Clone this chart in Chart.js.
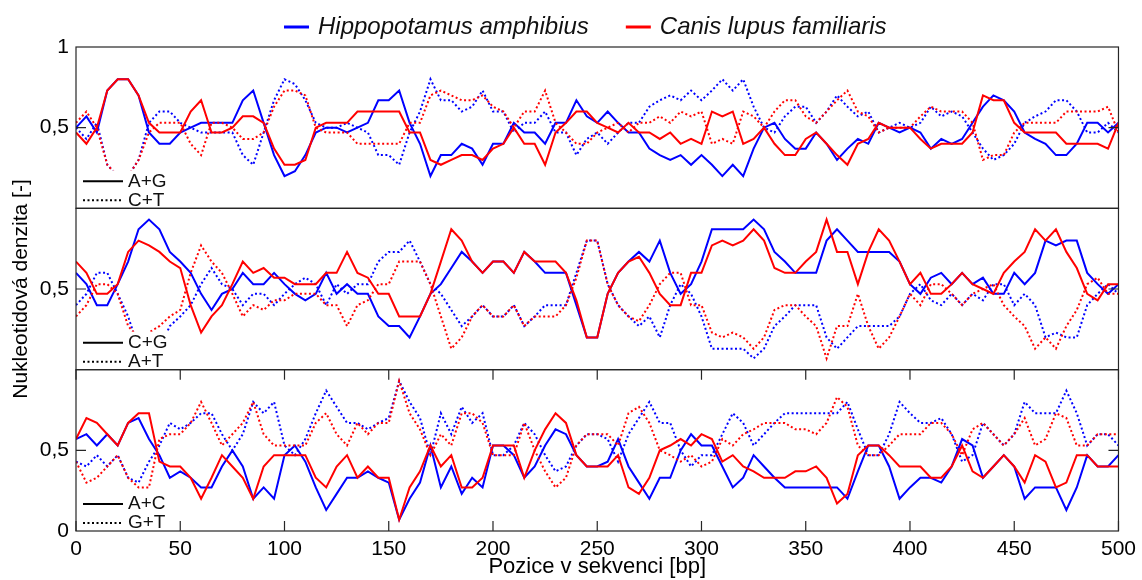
<!DOCTYPE html>
<html>
<head>
<meta charset="utf-8">
<script src="https://cdn.jsdelivr.net/npm/chart.js@4.4.1/dist/chart.umd.min.js"></script>
<style>
  html, body { margin: 0; padding: 0; background: #fff; }
  #wrap { width: 1142px; height: 580px; }
</style>
</head>
<body>
<div id="wrap"><canvas id="chart" width="1142" height="580"></canvas></div>
<script>
// position in sequence [bp], one value every 5 bp
const positions = [
  0, 5, 10, 15, 20, 25, 30, 35, 40, 45,
  50, 55, 60, 65, 70, 75, 80, 85, 90, 95,
  100, 105, 110, 115, 120, 125, 130, 135, 140, 145,
  150, 155, 160, 165, 170, 175, 180, 185, 190, 195,
  200, 205, 210, 215, 220, 225, 230, 235, 240, 245,
  250, 255, 260, 265, 270, 275, 280, 285, 290, 295,
  300, 305, 310, 315, 320, 325, 330, 335, 340, 345,
  350, 355, 360, 365, 370, 375, 380, 385, 390, 395,
  400, 405, 410, 415, 420, 425, 430, 435, 440, 445,
  450, 455, 460, 465, 470, 475, 480, 485, 490, 495,
  500
];

// panel 1: A+G (solid) / C+T (dotted)
const hippoAG = [
  0.5, 0.57, 0.47, 0.73, 0.8, 0.8, 0.7, 0.47, 0.4, 0.4,
  0.47, 0.5, 0.53, 0.53, 0.53, 0.53, 0.67, 0.73, 0.53, 0.33,
  0.2, 0.23, 0.33, 0.47, 0.5, 0.5, 0.47, 0.5, 0.53, 0.67,
  0.67, 0.73, 0.53, 0.4, 0.2, 0.33, 0.33, 0.4, 0.37, 0.27,
  0.4, 0.4, 0.53, 0.47, 0.47, 0.4, 0.53, 0.53, 0.67, 0.57,
  0.53, 0.6, 0.53, 0.47, 0.47, 0.37, 0.33, 0.3, 0.33, 0.27,
  0.33, 0.27, 0.2, 0.27, 0.2, 0.37, 0.5, 0.53, 0.43, 0.37,
  0.37, 0.47, 0.4, 0.3, 0.37, 0.43, 0.4, 0.53, 0.5, 0.47,
  0.5, 0.47, 0.37, 0.43, 0.4, 0.43, 0.53, 0.63, 0.7, 0.67,
  0.6, 0.47, 0.43, 0.4, 0.33, 0.33, 0.4, 0.53, 0.53, 0.47,
  0.53
];
const hippoCT = [
  0.5, 0.43, 0.53, 0.27, 0.2, 0.2, 0.3, 0.53, 0.6, 0.6,
  0.53, 0.5, 0.47, 0.47, 0.47, 0.47, 0.33, 0.27, 0.47, 0.67,
  0.8, 0.77, 0.67, 0.53, 0.5, 0.5, 0.53, 0.5, 0.47, 0.33,
  0.33, 0.27, 0.47, 0.6, 0.8, 0.67, 0.67, 0.6, 0.63, 0.73,
  0.6, 0.6, 0.47, 0.53, 0.53, 0.6, 0.47, 0.47, 0.33, 0.43,
  0.47, 0.4, 0.47, 0.53, 0.53, 0.63, 0.67, 0.7, 0.67, 0.73,
  0.67, 0.73, 0.8, 0.73, 0.8, 0.63, 0.5, 0.47, 0.57, 0.63,
  0.63, 0.53, 0.6, 0.7, 0.63, 0.57, 0.6, 0.47, 0.5, 0.53,
  0.5, 0.53, 0.63, 0.57, 0.6, 0.57, 0.47, 0.37, 0.3, 0.33,
  0.4, 0.53, 0.57, 0.6, 0.67, 0.67, 0.6, 0.47, 0.47, 0.53,
  0.47
];
const canisAG = [
  0.47, 0.4, 0.5, 0.73, 0.8, 0.8, 0.7, 0.53, 0.47, 0.47,
  0.47, 0.6, 0.67, 0.47, 0.47, 0.5, 0.57, 0.57, 0.53, 0.37,
  0.27, 0.27, 0.3, 0.5, 0.53, 0.53, 0.53, 0.6, 0.6, 0.6,
  0.6, 0.6, 0.47, 0.47, 0.3, 0.27, 0.3, 0.33, 0.33, 0.3,
  0.37, 0.4, 0.5, 0.4, 0.4, 0.27, 0.47, 0.53, 0.6, 0.6,
  0.53, 0.5, 0.47, 0.53, 0.47, 0.47, 0.43, 0.47, 0.4, 0.43,
  0.4, 0.6, 0.57, 0.6, 0.4, 0.43, 0.5, 0.4, 0.33, 0.33,
  0.43, 0.47, 0.4, 0.33, 0.27, 0.4, 0.43, 0.53, 0.5, 0.5,
  0.5, 0.43, 0.37, 0.4, 0.4, 0.4, 0.47, 0.7, 0.67, 0.67,
  0.53, 0.47, 0.47, 0.47, 0.47, 0.4, 0.4, 0.4, 0.4, 0.37,
  0.53
];
const canisCT = [
  0.53, 0.6, 0.5, 0.27, 0.2, 0.2, 0.3, 0.47, 0.53, 0.53,
  0.53, 0.4, 0.33, 0.53, 0.53, 0.5, 0.43, 0.43, 0.47, 0.63,
  0.73, 0.73, 0.7, 0.5, 0.47, 0.47, 0.47, 0.4, 0.4, 0.4,
  0.4, 0.4, 0.53, 0.53, 0.7, 0.73, 0.7, 0.67, 0.67, 0.7,
  0.63, 0.6, 0.5, 0.6, 0.6, 0.73, 0.53, 0.47, 0.4, 0.4,
  0.47, 0.5, 0.53, 0.47, 0.53, 0.53, 0.57, 0.53, 0.6, 0.57,
  0.6, 0.4, 0.43, 0.4, 0.6, 0.57, 0.5, 0.6, 0.67, 0.67,
  0.57, 0.53, 0.6, 0.67, 0.73, 0.6, 0.57, 0.47, 0.5, 0.5,
  0.5, 0.57, 0.63, 0.6, 0.6, 0.6, 0.53, 0.3, 0.33, 0.33,
  0.47, 0.53, 0.53, 0.53, 0.53, 0.6, 0.6, 0.6, 0.6, 0.63,
  0.47
];

// panel 2: C+G (solid) / A+T (dotted)
const hippoCG = [
  0.6, 0.53, 0.4, 0.4, 0.53, 0.67, 0.87, 0.93, 0.87, 0.73,
  0.67, 0.6, 0.47, 0.37, 0.47, 0.5, 0.6, 0.53, 0.53, 0.6,
  0.53, 0.47, 0.43, 0.47, 0.6, 0.47, 0.53, 0.47, 0.47, 0.33,
  0.27, 0.27, 0.2, 0.33, 0.47, 0.53, 0.63, 0.73, 0.67, 0.6,
  0.67, 0.67, 0.6, 0.73, 0.67, 0.6, 0.6, 0.6, 0.4, 0.2,
  0.2, 0.47, 0.6, 0.67, 0.73, 0.67, 0.8, 0.6, 0.47, 0.53,
  0.67, 0.87, 0.87, 0.87, 0.87, 0.93, 0.87, 0.73, 0.67, 0.6,
  0.6, 0.6, 0.8, 0.87, 0.8, 0.73, 0.73, 0.73, 0.73, 0.67,
  0.53, 0.47, 0.57, 0.6, 0.53, 0.6, 0.53, 0.57, 0.47, 0.47,
  0.6, 0.53, 0.6, 0.8, 0.77, 0.8, 0.8, 0.6, 0.53, 0.47,
  0.53
];
const hippoAT = [
  0.4, 0.47, 0.6, 0.6, 0.47, 0.33, 0.13, 0.07, 0.13, 0.27,
  0.33, 0.4, 0.53, 0.63, 0.53, 0.5, 0.4, 0.47, 0.47, 0.4,
  0.47, 0.53, 0.57, 0.53, 0.4, 0.53, 0.47, 0.53, 0.53, 0.67,
  0.73, 0.73, 0.8, 0.67, 0.53, 0.47, 0.37, 0.27, 0.33, 0.4,
  0.33, 0.33, 0.4, 0.27, 0.33, 0.4, 0.4, 0.4, 0.6, 0.8,
  0.8, 0.53, 0.4, 0.33, 0.27, 0.33, 0.2, 0.4, 0.53, 0.47,
  0.33, 0.13, 0.13, 0.13, 0.13, 0.07, 0.13, 0.27, 0.33, 0.4,
  0.4, 0.4, 0.2, 0.13, 0.2, 0.27, 0.27, 0.27, 0.27, 0.33,
  0.47, 0.53, 0.43, 0.4, 0.47, 0.4, 0.47, 0.43, 0.53, 0.53,
  0.4, 0.47, 0.4, 0.2, 0.23, 0.2, 0.2, 0.4, 0.47, 0.53,
  0.47
];
const canisCG = [
  0.67, 0.6, 0.47, 0.47, 0.53, 0.73, 0.8, 0.77, 0.73, 0.67,
  0.63, 0.4, 0.23, 0.33, 0.4, 0.53, 0.67, 0.6, 0.63, 0.57,
  0.57, 0.53, 0.53, 0.53, 0.6, 0.6, 0.73, 0.6, 0.57, 0.47,
  0.47, 0.33, 0.33, 0.33, 0.47, 0.67, 0.87, 0.8, 0.67, 0.6,
  0.67, 0.67, 0.6, 0.73, 0.67, 0.67, 0.67, 0.6, 0.43, 0.2,
  0.2, 0.47, 0.6, 0.67, 0.7, 0.6, 0.47, 0.4, 0.4, 0.6,
  0.6, 0.77, 0.8, 0.77, 0.8, 0.87, 0.8, 0.63, 0.6, 0.6,
  0.67, 0.73, 0.93, 0.73, 0.73, 0.53, 0.73, 0.87, 0.8, 0.67,
  0.53, 0.6, 0.47, 0.47, 0.53, 0.6, 0.53, 0.5, 0.47, 0.6,
  0.67, 0.73, 0.87, 0.8, 0.87, 0.73, 0.63, 0.47, 0.43, 0.53,
  0.53
];
const canisAT = [
  0.33, 0.4, 0.53, 0.53, 0.47, 0.27, 0.2, 0.23, 0.27, 0.33,
  0.37, 0.6, 0.77, 0.67, 0.6, 0.47, 0.33, 0.4, 0.37, 0.43,
  0.43, 0.47, 0.47, 0.47, 0.4, 0.4, 0.27, 0.4, 0.43, 0.53,
  0.53, 0.67, 0.67, 0.67, 0.53, 0.33, 0.13, 0.2, 0.33, 0.4,
  0.33, 0.33, 0.4, 0.27, 0.33, 0.33, 0.33, 0.4, 0.57, 0.8,
  0.8, 0.53, 0.4, 0.33, 0.3, 0.4, 0.53, 0.6, 0.6, 0.4,
  0.4, 0.23, 0.2, 0.23, 0.2, 0.13, 0.2, 0.37, 0.4, 0.4,
  0.33, 0.27, 0.07, 0.27, 0.27, 0.47, 0.27, 0.13, 0.2, 0.33,
  0.47, 0.4, 0.53, 0.53, 0.47, 0.4, 0.47, 0.5, 0.53, 0.4,
  0.33, 0.27, 0.13, 0.2, 0.13, 0.27, 0.37, 0.53, 0.57, 0.47,
  0.47
];

// panel 3: A+C (solid) / G+T (dotted)
const hippoAC = [
  0.57, 0.6, 0.53, 0.6, 0.53, 0.67, 0.7, 0.57, 0.47, 0.33,
  0.37, 0.33, 0.27, 0.27, 0.4, 0.5, 0.4, 0.2, 0.27, 0.2,
  0.47, 0.53, 0.43, 0.27, 0.13, 0.23, 0.33, 0.33, 0.37, 0.33,
  0.3, 0.07, 0.2, 0.3, 0.53, 0.27, 0.4, 0.23, 0.33, 0.27,
  0.53, 0.53, 0.47, 0.33, 0.4, 0.53, 0.63, 0.6, 0.47, 0.4,
  0.4, 0.43, 0.57, 0.4, 0.3, 0.2, 0.33, 0.33, 0.5, 0.6,
  0.53, 0.53, 0.4, 0.27, 0.33, 0.47, 0.4, 0.33, 0.27, 0.27,
  0.27, 0.27, 0.27, 0.27, 0.2, 0.37, 0.53, 0.53, 0.4, 0.2,
  0.27, 0.33, 0.33, 0.3, 0.4, 0.57, 0.53, 0.33, 0.4, 0.47,
  0.4, 0.2, 0.27, 0.27, 0.27, 0.13, 0.27, 0.47, 0.4, 0.4,
  0.47
];
const hippoGT = [
  0.43, 0.4, 0.47, 0.4, 0.47, 0.33, 0.3, 0.43, 0.53, 0.67,
  0.63, 0.67, 0.73, 0.73, 0.6, 0.5, 0.6, 0.8, 0.73, 0.8,
  0.53, 0.47, 0.57, 0.73, 0.87, 0.77, 0.67, 0.67, 0.63, 0.67,
  0.7, 0.93, 0.8, 0.7, 0.47, 0.73, 0.6, 0.77, 0.67, 0.73,
  0.47, 0.47, 0.53, 0.67, 0.6, 0.47, 0.37, 0.4, 0.53, 0.6,
  0.6, 0.57, 0.43, 0.6, 0.7, 0.8, 0.67, 0.67, 0.5, 0.4,
  0.47, 0.47, 0.6, 0.73, 0.67, 0.53, 0.6, 0.67, 0.73, 0.73,
  0.73, 0.73, 0.73, 0.73, 0.8, 0.63, 0.47, 0.47, 0.6, 0.8,
  0.73, 0.67, 0.67, 0.7, 0.6, 0.43, 0.47, 0.67, 0.6, 0.53,
  0.6, 0.8, 0.73, 0.73, 0.73, 0.87, 0.73, 0.53, 0.6, 0.6,
  0.53
];
const canisAC = [
  0.57, 0.7, 0.67, 0.6, 0.53, 0.67, 0.73, 0.73, 0.43, 0.4,
  0.4, 0.33, 0.2, 0.33, 0.47, 0.4, 0.33, 0.2, 0.4, 0.47,
  0.47, 0.47, 0.47, 0.33, 0.27, 0.4, 0.47, 0.33, 0.4, 0.33,
  0.33, 0.07, 0.27, 0.37, 0.53, 0.4, 0.47, 0.27, 0.27, 0.33,
  0.53, 0.53, 0.53, 0.33, 0.5, 0.63, 0.73, 0.67, 0.47, 0.4,
  0.4, 0.4, 0.47, 0.27, 0.23, 0.33, 0.5, 0.53, 0.57, 0.53,
  0.6, 0.57, 0.43, 0.47, 0.4, 0.37, 0.33, 0.33, 0.33, 0.37,
  0.37, 0.4, 0.33, 0.17, 0.23, 0.47, 0.53, 0.53, 0.47, 0.4,
  0.4, 0.4, 0.33, 0.33, 0.4, 0.53, 0.37, 0.33, 0.4, 0.47,
  0.4, 0.3, 0.47, 0.43, 0.27, 0.3, 0.47, 0.47, 0.4, 0.4,
  0.4
];
const canisGT = [
  0.43, 0.3, 0.33, 0.4, 0.47, 0.33, 0.27, 0.27, 0.57, 0.6,
  0.6, 0.67, 0.8, 0.67, 0.53, 0.6, 0.67, 0.8, 0.6, 0.53,
  0.53, 0.53, 0.53, 0.67, 0.73, 0.6, 0.53, 0.67, 0.6, 0.67,
  0.67, 0.93, 0.73, 0.63, 0.47, 0.6, 0.53, 0.73, 0.73, 0.67,
  0.47, 0.47, 0.47, 0.67, 0.5, 0.37, 0.27, 0.33, 0.53, 0.6,
  0.6, 0.6, 0.53, 0.73, 0.77, 0.67, 0.5, 0.47, 0.43, 0.47,
  0.4, 0.43, 0.57, 0.53, 0.6, 0.63, 0.67, 0.67, 0.67, 0.63,
  0.63, 0.6, 0.67, 0.83, 0.77, 0.53, 0.47, 0.47, 0.53, 0.6,
  0.6, 0.6, 0.67, 0.67, 0.6, 0.47, 0.63, 0.67, 0.6, 0.53,
  0.6, 0.7, 0.53, 0.57, 0.73, 0.7, 0.53, 0.53, 0.6, 0.6,
  0.6
];

const species = ['Hippopotamus amphibius', 'Canis lupus familiaris'];
const speciesColors = ['#0000ff', '#ff0000'];
const panelPairs = [['A+G', 'C+T'], ['C+G', 'A+T'], ['A+C', 'G+T']];
const topTicks = [0.5, 1];
const midTicks = [0.5];
const bottomTicks = [0, 0.5];
const xTicks = [0, 50, 100, 150, 200, 250, 300, 350, 400, 450, 500];

const FONT = '"Liberation Sans", Arial, sans-serif';
const DOTS = [2, 2.5];

const toPoints = vals => vals.map((v, i) => ({ x: positions[i], y: v }));

const makeLine = (label, vals, color, dotted, axis, order) => ({
  label: label,
  data: toPoints(vals),
  yAxisID: axis,
  order: order,
  borderColor: color,
  borderWidth: 2,
  borderDash: dotted ? DOTS : [],
  pointRadius: 0,
  tension: 0,
  fill: false
});

const panels = [
  { axis: 'yA', hippo: [hippoAG, hippoCT], canis: [canisAG, canisCT] },
  { axis: 'yB', hippo: [hippoCG, hippoAT], canis: [canisCG, canisAT] },
  { axis: 'yC', hippo: [hippoAC, hippoGT], canis: [canisAC, canisGT] }
];

const datasets = [];
panels.forEach((p, i) => {
  datasets.push(makeLine(species[1] + ' ' + panelPairs[i][0], p.canis[0], speciesColors[1], false, p.axis, 0));
  datasets.push(makeLine(species[1] + ' ' + panelPairs[i][1], p.canis[1], speciesColors[1], true, p.axis, 1));
  datasets.push(makeLine(species[0] + ' ' + panelPairs[i][0], p.hippo[0], speciesColors[0], false, p.axis, 2));
  datasets.push(makeLine(species[0] + ' ' + panelPairs[i][1], p.hippo[1], speciesColors[0], true, p.axis, 3));
});

const panelAxis = (tickVals, title) => ({
  type: 'linear',
  position: 'left',
  stack: 'panels',
  stackWeight: 1,
  min: 0,
  max: 1,
  grid: { display: false, drawTicks: false },
  border: { display: false },
  afterBuildTicks: s => { s.ticks = tickVals.map(v => ({ value: v })); },
  ticks: {
    autoSkip: false,
    padding: 7,
    color: '#000',
    font: { family: FONT, size: 21 },
    callback: v => String(v).replace('.', ',')
  },
  title: {
    display: !!title,
    text: title || '',
    color: '#000',
    font: { family: FONT, size: 21 },
    padding: { top: 9, bottom: 0 }
  },
  afterFit: s => { s.width = 76; }
});

// box, inward ticks and the small line-style legend of each panel
const panelFrames = {
  id: 'panelFrames',
  afterDatasetsDraw(chart) {
    const { ctx, chartArea } = chart;
    const left = chartArea.left, right = chartArea.right;
    ['yA', 'yB', 'yC'].forEach((id, p) => {
      const s = chart.scales[id];
      const top = s.top, bottom = s.bottom;
      ctx.save();
      ctx.fillStyle = '#fff';
      ctx.fillRect(left + 1, bottom - 38, 94, 37);
      ctx.strokeStyle = '#000';
      ctx.lineWidth = 2;
      ctx.beginPath();
      ctx.moveTo(left + 7, bottom - 27);
      ctx.lineTo(left + 47, bottom - 27);
      ctx.stroke();
      ctx.setLineDash(DOTS);
      ctx.beginPath();
      ctx.moveTo(left + 7, bottom - 8);
      ctx.lineTo(left + 47, bottom - 8);
      ctx.stroke();
      ctx.setLineDash([]);
      ctx.fillStyle = '#111';
      ctx.font = '19px ' + FONT;
      ctx.textBaseline = 'middle';
      ctx.fillText(panelPairs[p][0], left + 52, bottom - 27);
      ctx.fillText(panelPairs[p][1], left + 52, bottom - 8);

      ctx.strokeStyle = '#262626';
      ctx.lineWidth = 1.2;
      ctx.strokeRect(left, top, right - left, bottom - top);
      const y = s.getPixelForValue(0.5);
      ctx.beginPath();
      ctx.moveTo(left, y); ctx.lineTo(left + 10, y);
      ctx.moveTo(right, y); ctx.lineTo(right - 10, y);
      ctx.stroke();
      ctx.restore();
    });

    const xs = chart.scales.x, low = chart.scales.yC;
    ctx.save();
    ctx.strokeStyle = '#262626';
    ctx.lineWidth = 1.2;
    ctx.beginPath();
    xTicks.forEach(v => {
      const x = xs.getPixelForValue(v);
      ctx.moveTo(x, low.bottom); ctx.lineTo(x, low.bottom - 10);
      ctx.moveTo(x, low.top); ctx.lineTo(x, low.top + 10);
    });
    ctx.stroke();
    ctx.restore();
  },
  afterDraw(chart) {
    // species legend above the panels
    const { ctx, chartArea } = chart;
    const y = chartArea.top - 20;
    let x = chartArea.left + 208;
    ctx.save();
    ctx.font = 'italic 24px ' + FONT;
    ctx.textBaseline = 'middle';
    species.forEach((name, i) => {
      ctx.strokeStyle = speciesColors[i];
      ctx.lineWidth = 3;
      ctx.beginPath();
      ctx.moveTo(x, y);
      ctx.lineTo(x + 25, y);
      ctx.stroke();
      ctx.fillStyle = '#111';
      ctx.fillText(name, x + 34, y);
      x += 34 + ctx.measureText(name).width + 37;
    });
    ctx.restore();
  }
};

new Chart(document.getElementById('chart'), {
  type: 'line',
  data: { datasets: datasets },
  options: {
    responsive: false,
    animation: false,
    devicePixelRatio: 1,
    layout: { padding: { top: 47, right: 19, left: 0, bottom: 0 } },
    plugins: { legend: { display: false }, tooltip: { enabled: false } },
    scales: {
      x: {
        type: 'linear',
        min: 0,
        max: 500,
        grid: { display: false, drawTicks: false },
        border: { display: false },
        afterBuildTicks: s => { s.ticks = xTicks.map(v => ({ value: v })); },
        ticks: { autoSkip: false, maxRotation: 0, padding: 6, color: '#000', font: { family: FONT, size: 21 } },
        title: {
          display: true,
          text: 'Pozice v sekvenci [bp]',
          color: '#000',
          font: { family: FONT, size: 22 },
          padding: { top: 0, bottom: 0 }
        },
        afterFit: s => { s.height = 49; }
      },
      yC: panelAxis(bottomTicks, null),
      yB: panelAxis(midTicks, 'Nukleotidová denzita [-]'),
      yA: panelAxis(topTicks, null)
    }
  },
  plugins: [panelFrames]
});
</script>
</body>
</html>
